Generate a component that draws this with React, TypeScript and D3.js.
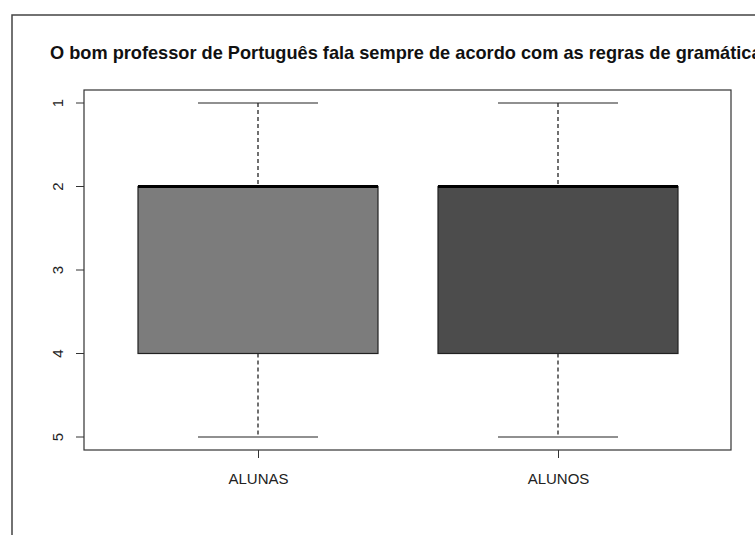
import React, { useEffect, useRef } from "react"
import * as d3 from "d3"

const title = "O bom professor de Português fala sempre de acordo com as regras de gramática"
const groups = ["ALUNAS", "ALUNOS"]
const mins = [1, 1]
const q1s = [2, 2]
const medians = [2, 2]
const q3s = [4, 4]
const maxs = [5, 5]
const yTicks = [1, 2, 3, 4, 5]
const fills = ["#7c7c7c", "#4c4c4c"]

function App() {
    const svgRef = useRef<SVGSVGElement>(null)

    useEffect(() => {
        const width = 755
        const height = 535
        const plot = { left: 84, top: 90, right: 731, bottom: 450 }
        const font = "Liberation Sans, Arial, sans-serif"

        const svg = d3.select(svgRef.current)
        svg.selectAll("*").remove()
        svg.attr("width", width).attr("height", height)

        svg.append("rect").attr("width", width).attr("height", height).attr("fill", "#fff")

        // outer frame of the cropped screenshot
        svg.append("rect")
            .attr("x", 12).attr("y", 15)
            .attr("width", 900).attr("height", 700)
            .attr("fill", "none")
            .attr("stroke", "#444")
            .attr("stroke-width", 1.5)

        // title runs past the right edge, as in the original screenshot
        svg.append("text")
            .attr("x", 50).attr("y", 59)
            .style("font-family", font)
            .style("font-weight", "bold")
            .style("font-size", "18.2px")
            .attr("fill", "#111")
            .text(title)

        const x = d3.scaleBand().domain(groups).range([78, 738]).padding(0.2)
        const y = d3.scaleLinear().domain([1, 5]).range([103, 437])

        const bw = x.bandwidth()

        groups.forEach((g, i) => {
            const cx = x(g)! + bw / 2
            const gg = svg.append("g")
            // whiskers
            gg.append("line")
                .attr("x1", cx).attr("x2", cx)
                .attr("y1", y(mins[i])).attr("y2", y(q1s[i]))
                .attr("stroke", "#111").attr("stroke-width", 1.2).attr("stroke-dasharray", "4,3")
            gg.append("line")
                .attr("x1", cx).attr("x2", cx)
                .attr("y1", y(q3s[i])).attr("y2", y(maxs[i]))
                .attr("stroke", "#111").attr("stroke-width", 1.2).attr("stroke-dasharray", "4,3")
            // caps
            ;[mins[i], maxs[i]].forEach((v) => {
                gg.append("line")
                    .attr("x1", cx - bw / 4).attr("x2", cx + bw / 4)
                    .attr("y1", y(v)).attr("y2", y(v))
                    .attr("stroke", "#222").attr("stroke-width", 1.2)
            })
            gg.append("rect")
                .attr("x", x(g)!).attr("y", y(q1s[i]))
                .attr("width", bw).attr("height", y(q3s[i]) - y(q1s[i]))
                .attr("fill", fills[i])
                .attr("stroke", "#222").attr("stroke-width", 1.2)
            gg.append("line")
                .attr("x1", x(g)!).attr("x2", x(g)! + bw)
                .attr("y1", y(medians[i])).attr("y2", y(medians[i]))
                .attr("stroke", "#000").attr("stroke-width", 3)
        })

        svg.append("rect")
            .attr("x", plot.left).attr("y", plot.top)
            .attr("width", plot.right - plot.left).attr("height", plot.bottom - plot.top)
            .attr("fill", "none").attr("stroke", "#333").attr("stroke-width", 1.2)

        const yAxis = svg.append("g").attr("transform", `translate(${plot.left},0)`)
            .call(d3.axisLeft(y).tickValues(yTicks).tickSize(8).tickPadding(0).tickFormat(d3.format("d")))
        yAxis.select(".domain").remove()
        yAxis.selectAll("line").attr("stroke", "#333")
        yAxis.selectAll(".tick").attr("transform", "translate(0,0)")
        yAxis.selectAll(".tick line").attr("y1", (d: any) => y(d)).attr("y2", (d: any) => y(d))
        yAxis.selectAll("text")
            .attr("x", 0).attr("y", 0).attr("dy", 0)
            .attr("transform", (d: any) => `translate(-21,${y(d)}) rotate(-90)`)
            .attr("text-anchor", "middle")
            .style("font-family", font).style("font-size", "15px").attr("fill", "#222")

        const xPoint = d3.scalePoint().domain(groups).range([x(groups[0])! + bw / 2, x(groups[1])! + bw / 2])
        const xAxis = svg.append("g").attr("transform", `translate(0,${plot.bottom})`)
            .call(d3.axisBottom(xPoint).tickSize(8).tickPadding(0))
        xAxis.select(".domain").remove()
        xAxis.selectAll("line").attr("stroke", "#333")
        xAxis.selectAll("text")
            .attr("y", 34).attr("dy", 0)
            .style("font-family", font).style("font-size", "15px").attr("fill", "#222")
    }, [])

    return (
        <div style={{ position: "absolute", left: 0, top: 0, width: 755, height: 535, overflow: "hidden" }}>
            <svg ref={svgRef} style={{ display: "block" }} />
        </div>
    )
}

export default App
